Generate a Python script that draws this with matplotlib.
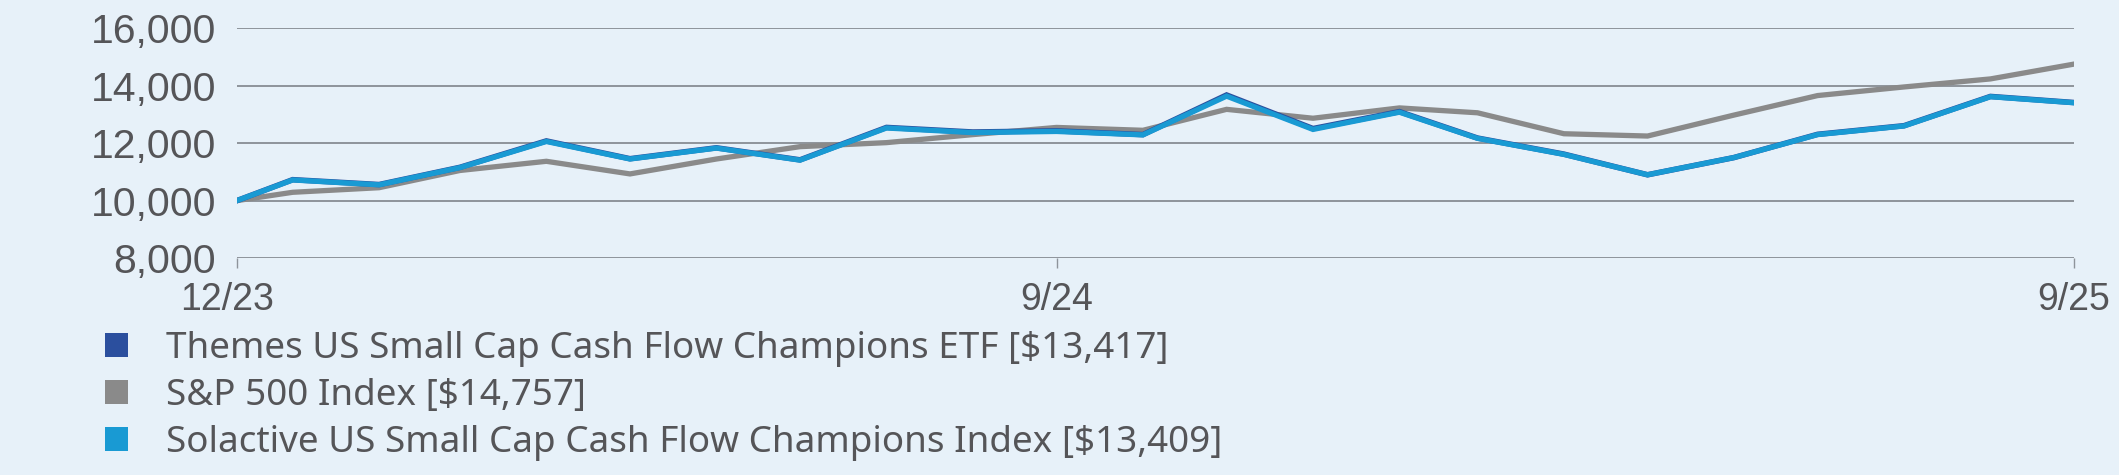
import pandas as pd
import matplotlib
matplotlib.use('Agg')
import matplotlib.pyplot as plt
from matplotlib.patches import Patch
from matplotlib.transforms import ScaledTranslation

# Dados
dates = [pd.Timestamp('2023-12-11')] + list(pd.date_range('2023-12-31', '2025-09-30', freq='ME'))

etf = [10000, 10730, 10560, 11160, 12080, 11460, 11840, 11420, 12550, 12390, 12430,
       12300, 13680, 12510, 13100, 12180, 11620, 10900, 11500, 12310, 12610, 13630, 13417]
sp500 = [10000, 10290, 10450, 11050, 11370, 10930, 11450, 11880, 12020, 12300, 12550,
         12450, 13180, 12870, 13230, 13060, 12330, 12250, 12980, 13660, 13960, 14240, 14757]
solactive = [10000, 10720, 10550, 11150, 12060, 11450, 11830, 11410, 12530, 12370, 12410,
             12290, 13640, 12480, 13080, 12170, 11610, 10900, 11500, 12300, 12600, 13620, 13409]

labels = ['Themes US Small Cap Cash Flow Champions ETF [$13,417]',
          'S&P 500 Index [$14,757]',
          'Solactive US Small Cap Cash Flow Champions Index [$13,409]']
yticks = [8000, 10000, 12000, 14000, 16000]
xtick_dates = [pd.Timestamp('2023-12-11'), pd.Timestamp('2024-09-30'), pd.Timestamp('2025-09-30')]
xtick_labels = ['12/23', '9/24', '9/25']

# Estilo
bg = '#e7f1f9'
c_etf, c_sp, c_sol = '#2b4f9e', '#8a8a8a', '#199ad3'
grid_c = '#8e949b'
txt_c = '#555558'

fig = plt.figure(figsize=(21.19, 4.75), dpi=100, facecolor=bg)
ax = fig.add_axes([0.1118, 0.4568, 0.9788 - 0.1118, 0.9402 - 0.4568])
ax.set_facecolor(bg)

ax.plot(dates, sp500, color=c_sp, lw=3.8, solid_joinstyle='miter', zorder=3)
ax.plot(dates, etf, color=c_etf, lw=4.0, solid_joinstyle='miter', zorder=4)
ax.plot(dates, solactive, color=c_sol, lw=3.8, solid_joinstyle='miter', zorder=5)

ax.set_ylim(8000, 16000)
ax.set_xlim(dates[0], dates[-1])
ax.set_yticks(yticks)
ax.set_yticklabels([f'{v:,}' for v in yticks], fontsize=29.5, color=txt_c, family='Liberation Sans')
ax.set_xticks(xtick_dates)
ax.set_xticklabels(xtick_labels, fontsize=27, color=txt_c, family='Liberation Sans')
ax.tick_params(axis='y', length=0, pad=15)
ax.tick_params(axis='x', length=7, width=1, color=grid_c, pad=10)

# primeiro rótulo um pouco deslocado para a esquerda, como no original
first = ax.get_xticklabels()[0]
first.set_transform(first.get_transform() + ScaledTranslation(-0.1, 0, fig.dpi_scale_trans))

ax.grid(axis='y', color=grid_c, lw=1.4)
ax.set_axisbelow(True)
for s in ax.spines.values():
    s.set_visible(False)

handles = [Patch(facecolor=c, edgecolor='none') for c in (c_etf, c_sp, c_sol)]
leg = fig.legend(handles, labels, loc='upper left', bbox_to_anchor=(105 / 2119, 1 - 331 / 475),
                 frameon=False, handlelength=0.62, handleheight=0.62,
                 handletextpad=1.05, labelspacing=0.3, borderpad=0, borderaxespad=0,
                 prop={'family': 'Noto Sans', 'size': 26.5})
for t in leg.get_texts():
    t.set_color(txt_c)

fig.savefig('out.png', dpi=100, facecolor=bg)
